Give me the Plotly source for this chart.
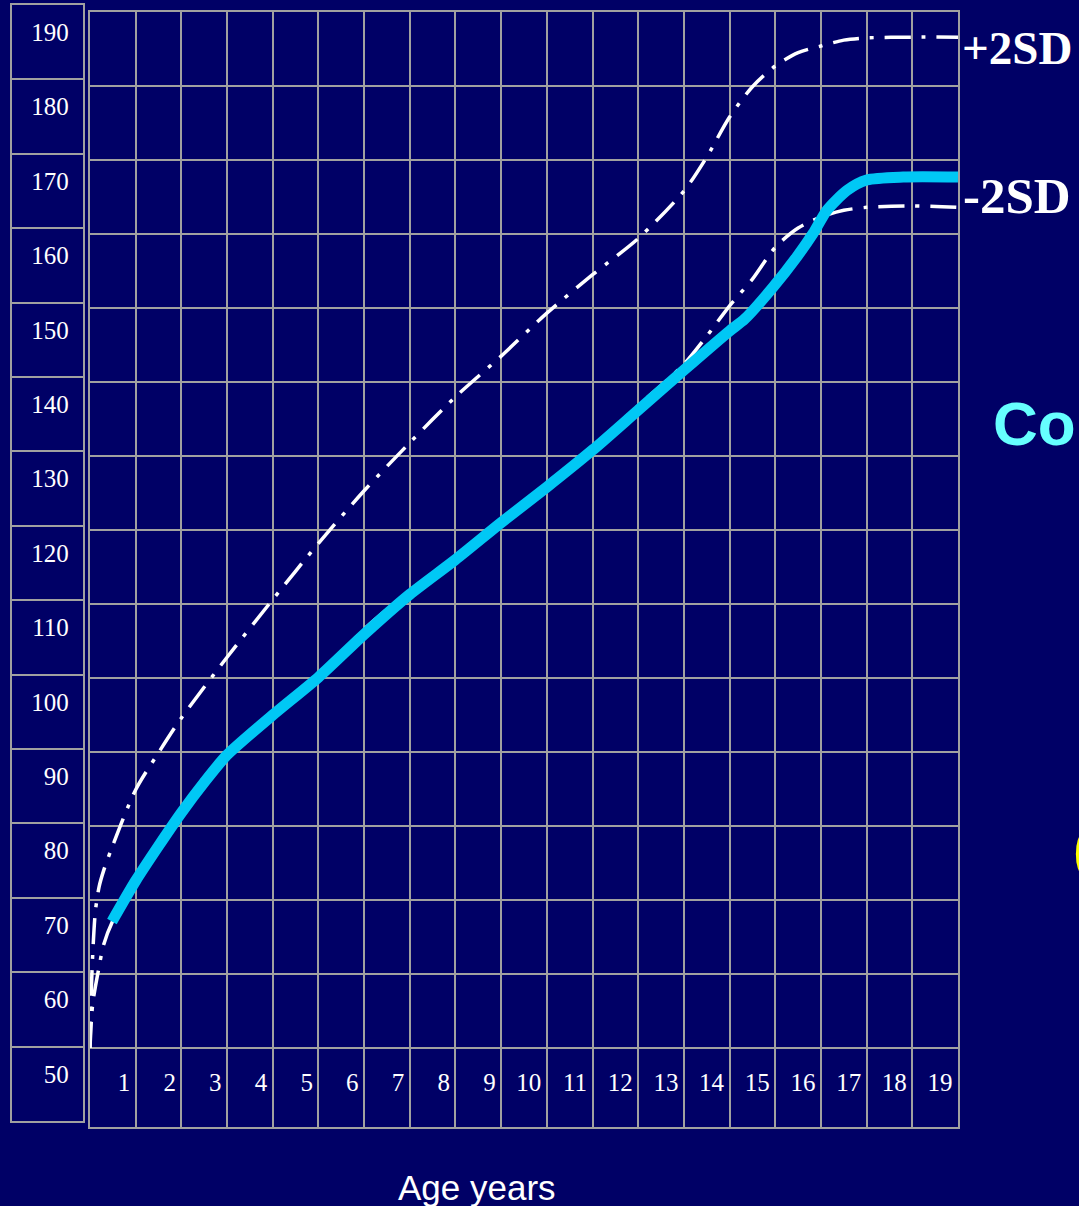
import plotly.graph_objects as go

# ---------------- data ----------------
ages_plus2sd = [0, 0.03, 0.07, 0.12, 0.2, 0.3, 0.5, 1, 1.5, 2, 3, 4, 5, 6, 7, 8, 9, 10, 11, 12,
                13, 13.5, 14, 14.5, 15, 15.5, 16, 16.5, 17, 18, 19]
height_plus2sd = [50, 58, 64, 68.6, 71.8, 74, 77.4, 84.9, 89.9, 94.6, 102.8, 110.6, 118.2, 125.3,
                  131.8, 138.0, 143.5, 149.3, 154.5, 159.4, 165.8, 170.4, 175.8, 179.9, 182.7,
                  184.5, 185.4, 186.2, 186.5, 186.6, 186.6]

ages_minus2sd = [0, 0.06, 0.2, 0.3, 0.5, 1, 2, 3, 4, 5, 6, 7, 8, 9, 10, 11, 12, 13, 13.5, 14,
                 14.5, 15, 15.5, 16, 16.5, 17, 18, 19]
height_minus2sd = [50, 56, 61, 64, 67.2, 72.8, 81.8, 89.4, 95.0, 100.2, 106.6, 111.8, 116.5, 121.4,
                   126.2, 131.2, 136.8, 142.4, 146.2, 150.3, 153.9, 158.2, 160.8, 162.3, 163.2,
                   163.6, 163.8, 163.6]

ages_patient = [0.48, 1, 1.5, 2, 2.5, 3, 4, 5, 6, 7, 8, 9, 10, 11, 12, 13, 14, 14.33, 14.95,
                15.47, 15.83, 16.13, 16.57, 17, 17.8, 19]
height_patient = [67.1, 72.6, 77.3, 81.8, 85.9, 89.6, 95.0, 100.1, 105.9, 111.3, 116.0, 121.0,
                  125.8, 130.8, 136.2, 141.6, 146.9, 148.5, 152.8, 156.9, 160.1, 163.2, 165.9,
                  167.3, 167.7, 167.7]

age_ticks = list(range(1, 20))
height_ticks = list(range(50, 200, 10))

# ---------------- layout helpers ----------------
W, H = 1079, 1206
BG = "#000066"
GRID = "#a0a0a0"
SERIF = "Liberation Serif, Times New Roman, serif"
SANS = "Liberation Sans, Arial, sans-serif"


def fx(p):
    return p / W


def fy(p):
    return 1 - p / H


# main grid mapping: y=1048px -> 50, 74px per 10 units, top 12px -> 190
y_bottom = 50 - (1127 - 1048) / 7.4

fig = go.Figure()

# -2SD
fig.add_trace(go.Scatter(
    x=ages_minus2sd, y=height_minus2sd, mode="lines",
    line=dict(color="white", width=3.5, dash="26px,11px,4px,11px", shape="spline", smoothing=0.8),
    hoverinfo="skip", showlegend=False, xaxis="x", yaxis="y"))
# +2SD
fig.add_trace(go.Scatter(
    x=ages_plus2sd, y=height_plus2sd, mode="lines",
    line=dict(color="white", width=3.5, dash="26px,11px,4px,11px", shape="spline", smoothing=0.8),
    hoverinfo="skip", showlegend=False, xaxis="x", yaxis="y"))
# patient
fig.add_trace(go.Scatter(
    x=ages_patient, y=height_patient, mode="lines",
    line=dict(color="#00c8f5", width=11, shape="spline", smoothing=0.7),
    hoverinfo="skip", showlegend=False, xaxis="x", yaxis="y"))

# x tick labels inside the bottom row
fig.add_trace(go.Scatter(
    x=[a - 0.12 for a in age_ticks], y=[45.0] * len(age_ticks), mode="text",
    text=[str(a) for a in age_ticks], textposition="middle left",
    textfont=dict(family=SERIF, size=25, color="white"),
    hoverinfo="skip", showlegend=False, xaxis="x", yaxis="y"))

# left label column
fig.add_trace(go.Scatter(
    x=[0.80] * len(height_ticks), y=[v - 4 for v in height_ticks], mode="text",
    text=[str(v) for v in height_ticks], textposition="middle left",
    textfont=dict(family=SERIF, size=25, color="white"),
    hoverinfo="skip", showlegend=False, xaxis="x2", yaxis="y2"))

axis_common = dict(showline=True, mirror=True, linecolor=GRID, linewidth=2,
                   showgrid=True, gridcolor=GRID, gridwidth=2, zeroline=False,
                   showticklabels=False, ticks="", fixedrange=True)

fig.update_layout(
    width=W, height=H,
    margin=dict(l=0, r=0, t=0, b=0),
    paper_bgcolor=BG, plot_bgcolor=BG,
    xaxis=dict(domain=[fx(90), fx(958)], range=[0, 19], tickmode="array",
               tickvals=list(range(1, 19)), anchor="y", **axis_common),
    yaxis=dict(domain=[fy(1127), fy(12)], range=[y_bottom, 190], tickmode="array",
               tickvals=list(range(50, 190, 10)), anchor="x", **axis_common),
    xaxis2=dict(domain=[fx(12), fx(83)], range=[0, 1], anchor="y2",
                **{**axis_common, "showgrid": False}),
    yaxis2=dict(domain=[fy(1121), fy(5)], range=[40, 190], tickmode="array",
                tickvals=list(range(50, 190, 10)), anchor="x2", **axis_common),
    annotations=[
        dict(text="<b>+2SD</b>", xref="paper", yref="paper", x=fx(960), y=fy(48),
             xanchor="left", yanchor="middle", showarrow=False,
             font=dict(family=SERIF, size=47, color="white")),
        dict(text="<b>-2SD</b>", xref="paper", yref="paper", x=fx(961), y=fy(196),
             xanchor="left", yanchor="middle", showarrow=False,
             font=dict(family=SERIF, size=51, color="white")),
        dict(text="<b>Co</b>", xref="paper", yref="paper", x=fx(991), y=fy(424),
             xanchor="left", yanchor="middle", showarrow=False,
             font=dict(family=SANS, size=62, color="#66ffff")),
        dict(text="<b>(</b>", xref="paper", yref="paper", x=fx(1071), y=fy(848),
             xanchor="left", yanchor="middle", showarrow=False,
             font=dict(family=SANS, size=58, color="#ffff00")),
        dict(text="Age years", xref="paper", yref="paper", x=fx(477), y=fy(1187),
             xanchor="center", yanchor="middle", showarrow=False,
             font=dict(family=SANS, size=35, color="white")),
    ],
)

fig.write_html(
    "out.html",
    config={"displayModeBar": False},
    post_script="document.body.style.margin='0';document.body.style.overflow='hidden';",
)
